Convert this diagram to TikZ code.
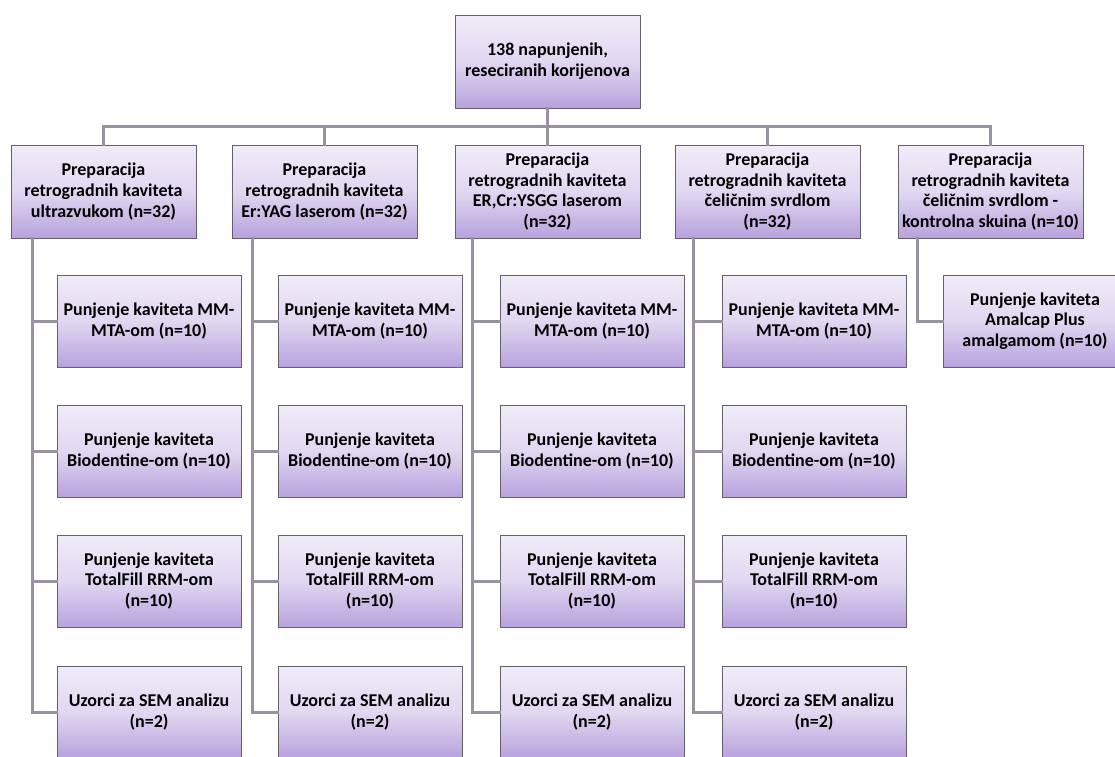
\documentclass[tikz,border=0pt]{standalone}
\usepackage{fontspec}
\setmainfont{Carlito}
\usetikzlibrary{shadows}
\definecolor{boxtop}{RGB}{240,236,248}
\definecolor{boxbot}{RGB}{184,162,222}
\definecolor{boxline}{RGB}{100,96,108}
\definecolor{connc}{RGB}{152,146,160}
\tikzset{
  box/.style={draw=boxline, line width=0.6pt, top color=boxtop, bottom color=boxbot,
    middle color=boxtop!72!boxbot,
    minimum width=185pt, minimum height=93pt, inner sep=2pt, align=center,
    font=\fontsize{18}{20.7}\selectfont\bfseries, text=black,
    drop shadow={shadow xshift=1.2pt, shadow yshift=-1.2pt, opacity=0.25}},
  cbox/.style={box, minimum width=184pt, minimum height=92pt},
  conn/.style={draw=connc, line width=3pt, line cap=rect}
}
\begin{document}
\begin{tikzpicture}[x=1pt, y=-1pt]
\useasboundingbox (0,0) rectangle (1115,756);
\clip (0,0) rectangle (1115,756);
\fill[white] (0,0) rectangle (1115,756);
\coordinate (bT) at (547.5,126);
% root and level 1
\node[box] (root) at (547.5,61.5) {138 napunjenih,\\reseciranih korijenova};
\node[box] (p1) at (103.5,191.5) {Preparacija\\retrogradnih kaviteta\\ultrazvukom (n=32)};
\node[box] (p2) at (324.5,191.5) {Preparacija\\retrogradnih kaviteta\\Er:YAG laserom (n=32)};
\node[box] (p3) at (547.5,191.5) {Preparacija\\retrogradnih kaviteta\\ER,Cr:YSGG laserom\\(n=32)};
\node[box] (p4) at (767.5,191.5) {Preparacija\\retrogradnih kaviteta\\čeličnim svrdlom\\(n=32)};
\node[box] (p5) at (990.5,191.5) {Preparacija\\retrogradnih kaviteta\\čeličnim svrdlom -\\kontrolna skuina (n=10)};
% children
\foreach \i/\lx in {1/57,2/278,3/500,4/722}{
  \node[cbox] (c\i a) at (\lx+92,321) {Punjenje kaviteta MM-\\MTA-om (n=10)};
  \node[cbox] (c\i b) at (\lx+92,451) {Punjenje kaviteta\\Biodentine-om (n=10)};
  \node[cbox] (c\i c) at (\lx+92,581) {Punjenje kaviteta\\TotalFill RRM-om\\(n=10)};
  \node[cbox] (c\i d) at (\lx+92,712) {Uzorci za SEM analizu\\(n=2)};
}
\node[cbox] (c5a) at (943+92,321) {Punjenje kaviteta\\Amalcap Plus\\amalgamom (n=10)};
% connectors
\draw[conn] (root.south) -- (bT);
\draw[conn] (p1.north) |- (bT) -| (p5.north);
\draw[conn] (p2.north) -- (p2.north |- bT);
\draw[conn] (p3.north) -- (bT);
\draw[conn] (p4.north) -- (p4.north |- bT);
\foreach \i/\tx in {1/32,2/252,3/472,4/693}{
  \coordinate (t\i) at (\tx,0);
  \draw[conn] (t\i |- p\i.south) |- (c\i d.west);
  \draw[conn] (t\i |- c\i a.west) -- (c\i a.west);
  \draw[conn] (t\i |- c\i b.west) -- (c\i b.west);
  \draw[conn] (t\i |- c\i c.west) -- (c\i c.west);
}
\coordinate (t5) at (917,0);
\draw[conn] (t5 |- p5.south) |- (c5a.west);
\end{tikzpicture}
\end{document}
